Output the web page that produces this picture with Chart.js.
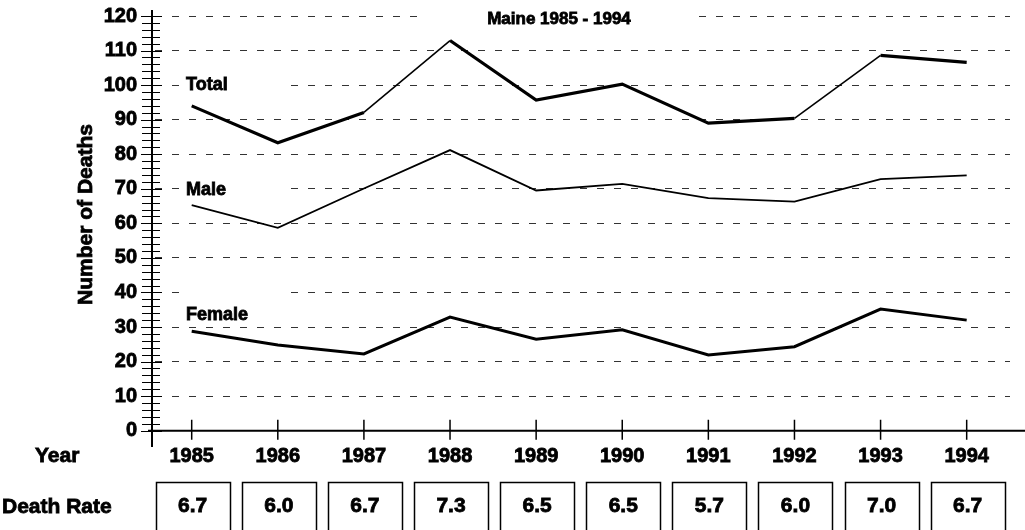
<!DOCTYPE html>
<html>
<head>
<meta charset="utf-8">
<script src="https://cdn.jsdelivr.net/npm/chart.js@4"></script>
<style>
  body { margin: 0; background: #fff; }
</style>
</head>
<body>
<canvas id="myChart" width="1025" height="530"></canvas>
<script>
var years = [1985, 1986, 1987, 1988, 1989, 1990, 1991, 1992, 1993, 1994];
var total = [94, 83.3, 92.1, 112.9, 95.7, 100.3, 89, 90.4, 108.6, 106.6];
var male = [65.3, 58.7, 70.1, 81.2, 69.5, 71.4, 67.3, 66.3, 72.8, 73.9];
var female = [28.8, 24.8, 22.2, 32.9, 26.5, 29.2, 21.9, 24.3, 35.2, 32];
var deathRate = [6.7, 6.0, 6.7, 7.3, 6.5, 6.5, 5.7, 6.0, 7.0, 6.7];
var yTicks = [0, 10, 20, 30, 40, 50, 60, 70, 80, 90, 100, 110, 120];

var FONT = '"Liberation Sans", Arial, sans-serif';

function pts(arr) {
  return years.map(function(yr, i) { return { x: yr, y: arr[i] }; });
}

// heavy text: fill plus a thin stroke, to look like the scanned bold type
function heavy(c, txt, x, y, w) {
  c.lineWidth = w || 0.8;
  c.strokeText(txt, x, y);
  c.fillText(txt, x, y);
}

var decor = {
  id: 'decor',
  beforeDatasetsDraw: function(chart) {
    var c = chart.ctx, y = chart.scales.y;
    c.save();
    // white backing behind title and series labels
    c.fillStyle = '#fff';
    c.fillRect(418, 6, 281, 22);
    c.fillRect(180, y.getPixelForValue(100) - 10, 110, 20);
    c.fillRect(180, y.getPixelForValue(70) - 10, 110, 20);
    c.fillRect(180, y.getPixelForValue(40) - 9, 110, 18);

    c.fillStyle = '#000';
    c.strokeStyle = '#000';
    c.textBaseline = 'middle';
    c.textAlign = 'center';
    c.font = 'bold 17px ' + FONT;
    heavy(c, 'Maine 1985 - 1994', 559, 19);

    c.textAlign = 'left';
    c.font = 'bold 18px ' + FONT;
    heavy(c, 'Total', 186, y.getPixelForValue(100));
    heavy(c, 'Male', 186, y.getPixelForValue(70) + 1);
    heavy(c, 'Female', 186, 315);
    c.restore();
  },
  afterDraw: function(chart) {
    var c = chart.ctx, x = chart.scales.x, y = chart.scales.y;
    var a = chart.chartArea;
    c.save();
    c.strokeStyle = '#000';
    c.fillStyle = '#000';

    // axis lines
    c.lineWidth = 2;
    c.beginPath();
    c.moveTo(a.left, 10);
    c.lineTo(a.left, 447);
    c.moveTo(148, a.bottom);
    c.lineTo(1025, a.bottom);
    c.stroke();

    // y tick marks every 2 units, crossing the axis
    c.lineWidth = 1;
    c.beginPath();
    for (var v = 0; v <= 120; v += 2) {
      var py = Math.round(y.getPixelForValue(v)) + 0.5;
      var major = v % 10 === 0;
      c.moveTo(major ? a.left - 11 : a.left - 10, py);
      c.lineTo(major ? a.left + 10 : a.left + 8, py);
    }
    c.stroke();

    // x tick marks crossing the axis
    c.lineWidth = 1.5;
    c.beginPath();
    years.forEach(function(yr) {
      var px = x.getPixelForValue(yr);
      c.moveTo(px, a.bottom - 11);
      c.lineTo(px, a.bottom + 9);
    });
    c.stroke();

    // axis title
    c.save();
    c.translate(86, 214.5);
    c.rotate(-Math.PI / 2);
    c.textAlign = 'center';
    c.textBaseline = 'middle';
    c.font = 'bold 21px ' + FONT;
    heavy(c, 'Number of Deaths', 0, 0);
    c.restore();

    // row labels
    c.textAlign = 'left';
    c.textBaseline = 'middle';
    c.font = 'bold 21px ' + FONT;
    heavy(c, 'Year', 35, 456);
    heavy(c, 'Death Rate', 2, 507);

    // death rate boxes
    c.textAlign = 'center';
    c.font = 'bold 21px ' + FONT;
    years.forEach(function(yr, i) {
      var cx = x.getPixelForValue(yr) + 1;
      c.lineWidth = 1.5;
      c.strokeRect(Math.round(cx - 37) + 0.5, 482.5, 74, 60);
      heavy(c, deathRate[i].toFixed(1), cx, 506);
    });
    c.restore();
  }
};

var ctx = document.getElementById('myChart');
var myChart = new Chart(ctx, {
  type: 'line',
  data: {
    datasets: [{
      label: 'Total',
      data: pts(total),
      borderColor: '#000',
      borderWidth: 3.2,
      segment: {
        borderWidth: function(s) {
          return s.p1.parsed.y - s.p0.parsed.y > 15 ? 1.6 : 3.2;
        }
      },
      pointRadius: 0,
      fill: false
    }, {
      label: 'Male',
      data: pts(male),
      borderColor: '#000',
      borderWidth: 1.8,
      pointRadius: 0,
      fill: false
    }, {
      label: 'Female',
      data: pts(female),
      borderColor: '#000',
      borderWidth: 3,
      pointRadius: 0,
      fill: false
    }]
  },
  options: {
    responsive: false,
    animation: false,
    layout: { padding: { left: 0, right: 15, top: 16, bottom: 0 } },
    plugins: {
      legend: { display: false },
      title: { display: false },
      tooltip: { enabled: false }
    },
    scales: {
      x: {
        type: 'linear',
        min: 1984.539,
        max: 1994.503,
        afterBuildTicks: function(s) {
          s.ticks = years.map(function(v) { return { value: v }; });
        },
        afterFit: function(s) {
          s.height = 99.3;
          s.paddingLeft = 0;
          s.paddingRight = 0;
        },
        grid: { display: false },
        border: { display: false },
        ticks: {
          callback: function(v) { return String(v); },
          color: '#000',
          textStrokeColor: '#000',
          textStrokeWidth: 0.8,
          font: { family: FONT, size: 20, weight: 'bold' },
          padding: 6,
          maxRotation: 0,
          autoSkip: false
        }
      },
      y: {
        min: 0,
        max: 120,
        afterBuildTicks: function(s) {
          s.ticks = yTicks.map(function(v) { return { value: v }; });
        },
        afterFit: function(s) {
          s.width = 152;
          s.paddingTop = 0;
          s.paddingBottom = 0;
        },
        grid: { drawTicks: false, color: '#333', lineWidth: 1 },
        border: { display: false, dash: [7, 10], dashOffset: 14 },
        ticks: {
          color: '#000',
          textStrokeColor: '#000',
          textStrokeWidth: 0.8,
          font: { family: FONT, size: 20, weight: 'bold' },
          padding: 15
        }
      }
    }
  },
  plugins: [decor]
});
</script>
</body>
</html>
